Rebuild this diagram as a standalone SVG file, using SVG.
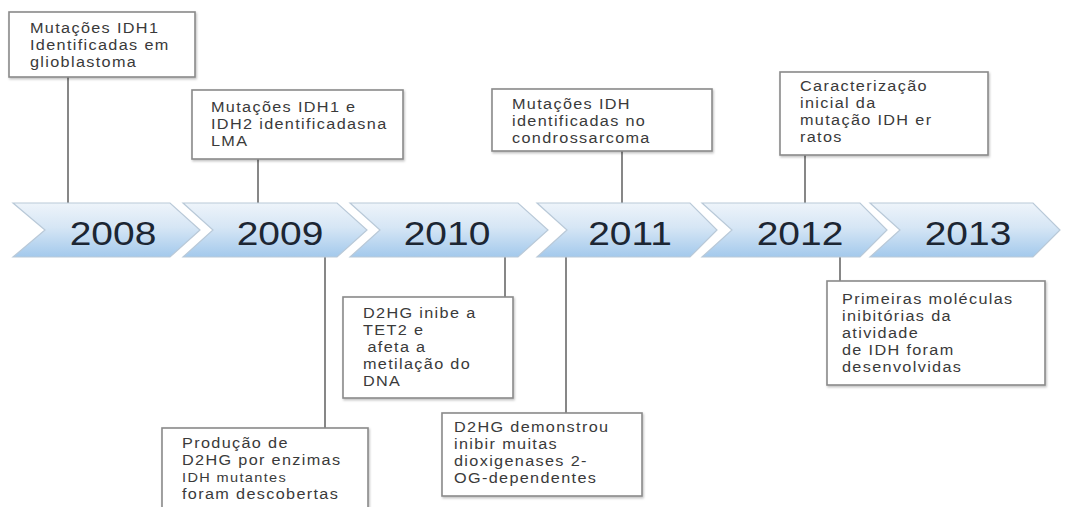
<svg xmlns="http://www.w3.org/2000/svg" width="1065" height="507" viewBox="0 0 1065 507">
<defs>
<linearGradient id="chev" x1="0" y1="0" x2="0" y2="1">
<stop offset="0" stop-color="#eef4fa"/>
<stop offset="0.45" stop-color="#d6e6f5"/>
<stop offset="1" stop-color="#a3c9ec"/>
</linearGradient>
<filter id="sh" x="-5%" y="-5%" width="110%" height="115%">
<feDropShadow dx="1" dy="1.5" stdDeviation="1" flood-color="#000" flood-opacity="0.25"/>
</filter>
</defs>
<style>
.box{fill:#fff;stroke:#8a8a8a;stroke-width:1.6;filter:url(#sh)}
.t{font-family:"Liberation Sans",Arial,sans-serif;font-size:14.5px;fill:#3a3a3a;letter-spacing:1.2px}
.ts{font-size:13px}
.yr{font-family:"Liberation Sans",Arial,sans-serif;font-size:33px;fill:#1c2633;text-anchor:middle}
.ch{fill:url(#chev);stroke:#b9c9d8;stroke-width:1.2}
.con line{stroke:#7a7a7a;stroke-width:1.8}
</style>
<rect width="1065" height="507" fill="#fff"/>
<g id="connectors" class="con">
<line x1="68" y1="77" x2="68" y2="204"/>
<line x1="258" y1="159" x2="258" y2="204"/>
<line x1="622" y1="151" x2="622" y2="204"/>
<line x1="805" y1="155" x2="805" y2="204"/>
<line x1="505" y1="256" x2="505" y2="297"/>
<line x1="325" y1="256" x2="325" y2="428"/>
<line x1="566" y1="256" x2="566" y2="413"/>
<line x1="840" y1="256" x2="840" y2="281"/>
</g>
<g id="timeline">
<g id="y2008"><polygon class="ch" points="13,203 170,203 200,230 170,257 13,257 45,230"/><text class="yr" transform="translate(113,245) scale(1.18,1)">2008</text></g>
<g id="y2009"><polygon class="ch" points="183,203 337,203 367,230 337,257 183,257 213,230"/><text class="yr" transform="translate(280,245) scale(1.18,1)">2009</text></g>
<g id="y2010"><polygon class="ch" points="350,203 518,203 548,230 518,257 350,257 380,230"/><text class="yr" transform="translate(447,245) scale(1.18,1)">2010</text></g>
<g id="y2011"><polygon class="ch" points="537,203 690,203 717,230 690,257 537,257 567,230"/><text class="yr" transform="translate(630,245) scale(1.18,1)">2011</text></g>
<g id="y2012"><polygon class="ch" points="702,203 860,203 887,230 860,257 702,257 732,230"/><text class="yr" transform="translate(800,245) scale(1.18,1)">2012</text></g>
<g id="y2013"><polygon class="ch" points="870,203 1033,203 1060,230 1033,257 870,257 900,230"/><text class="yr" transform="translate(968,245) scale(1.18,1)">2013</text></g>
</g>
<g id="n1"><rect class="box" x="9" y="12" width="186" height="65"/>
<text class="t" transform="translate(30,0) scale(1.12,1)"><tspan x="0" y="33">Mutações IDH1</tspan><tspan x="0" y="50">Identificadas em</tspan><tspan x="0" y="67">glioblastoma</tspan></text></g>
<g id="n2"><rect class="box" x="192" y="90" width="211" height="69"/>
<text class="t" transform="translate(211,0) scale(1.12,1)"><tspan x="0" y="112">Mutações IDH1 e</tspan><tspan x="0" y="129">IDH2 identificadasna</tspan><tspan x="0" y="146">LMA</tspan></text></g>
<g id="n3"><rect class="box" x="492" y="89" width="220" height="62"/>
<text class="t" transform="translate(512,0) scale(1.12,1)"><tspan x="0" y="109">Mutações IDH</tspan><tspan x="0" y="126">identificadas no</tspan><tspan x="0" y="143">condrossarcoma</tspan></text></g>
<g id="n4"><rect class="box" x="780" y="72" width="208" height="83"/>
<text class="t" transform="translate(800,0) scale(1.12,1)"><tspan x="0" y="91">Caracterização</tspan><tspan x="0" y="108">inicial da</tspan><tspan x="0" y="125">mutação IDH er</tspan><tspan x="0" y="142">ratos</tspan></text></g>
<g id="n5"><rect class="box" x="343" y="297" width="170" height="101"/>
<text class="t" transform="translate(363,0) scale(1.12,1)"><tspan x="0" y="318">D2HG inibe a</tspan><tspan x="0" y="335">TET2 e</tspan><tspan x="4" y="352">afeta a</tspan><tspan x="0" y="369">metilação do</tspan><tspan x="0" y="386">DNA</tspan></text></g>
<g id="n6"><rect class="box" x="162" y="428" width="206" height="90"/>
<text class="t" transform="translate(182,0) scale(1.12,1)"><tspan x="0" y="448">Produção de</tspan><tspan x="0" y="465">D2HG por enzimas</tspan><tspan x="0" y="482" class="ts">IDH mutantes</tspan><tspan x="0" y="499">foram descobertas</tspan></text></g>
<g id="n7"><rect class="box" x="442" y="413" width="200" height="83"/>
<text class="t" transform="translate(454,0) scale(1.12,1)"><tspan x="0" y="432">D2HG demonstrou</tspan><tspan x="0" y="449">inibir muitas</tspan><tspan x="0" y="466">dioxigenases 2-</tspan><tspan x="0" y="483">OG-dependentes</tspan></text></g>
<g id="n8"><rect class="box" x="827" y="281" width="218" height="104"/>
<text class="t" transform="translate(842,0) scale(1.12,1)"><tspan x="0" y="304">Primeiras moléculas</tspan><tspan x="0" y="321">inibitórias da</tspan><tspan x="0" y="338">atividade</tspan><tspan x="0" y="355">de IDH foram</tspan><tspan x="0" y="372">desenvolvidas</tspan></text></g>
</svg>
